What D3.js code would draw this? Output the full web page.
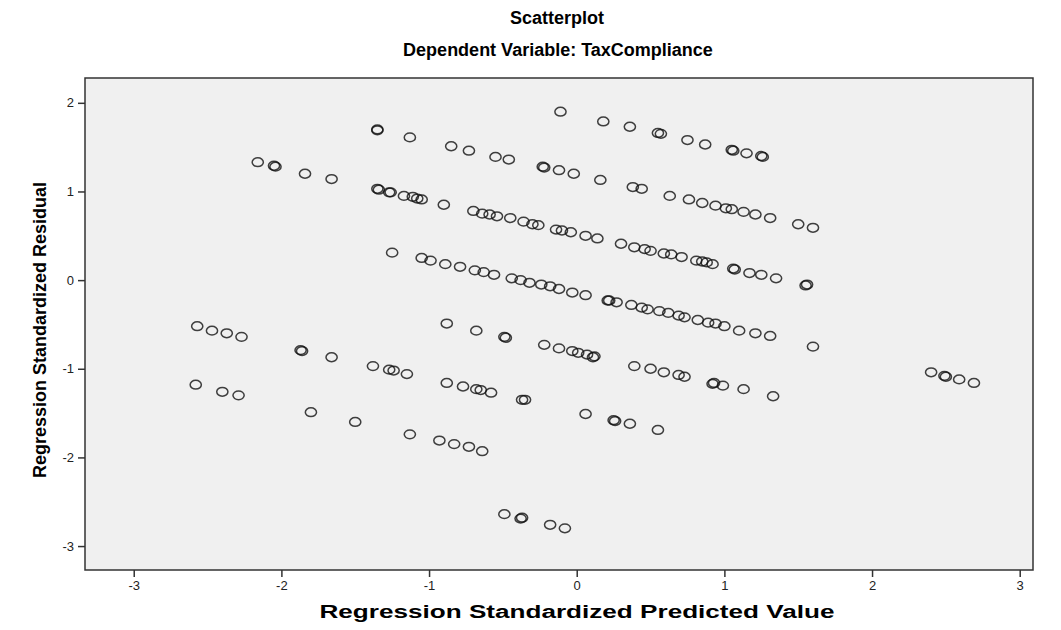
<!DOCTYPE html>
<html>
<head>
<meta charset="utf-8">
<script src="https://cdn.jsdelivr.net/npm/d3@7"></script>
<style>
  body { margin: 0; background: #fff; }
  text { font-family: "Liberation Sans", Arial, sans-serif; }
</style>
</head>
<body>
<div id="chart"></div>
<script>
// predicted values (x) and residuals (y)
var predicted = [
  -0.11, 0.18, 0.36, 0.55, 0.57, 0.75, 0.87, 1.05, 1.06, 1.15, 1.25, 1.26,
  -1.35, -1.35, -1.13, -0.85, -0.73, -0.55, -0.46, -0.23, -0.22, -0.12, -0.02, 0.16, 0.38, 0.44,
  0.63, 0.76, 0.85, 0.94, 1.01, 1.05, 1.13, 1.21, 1.31, 1.50, 1.60,
  -2.16, -2.05, -2.04, -1.84, -1.66, -1.35, -1.34, -1.27, -1.26, -1.17, -1.11, -1.08, -1.05, -0.90,
  -0.70, -0.64, -0.59, -0.54, -0.45, -0.36, -0.30, -0.26, -0.14, -0.10, -0.04, 0.06, 0.14, 0.30,
  0.39, 0.46, 0.50, 0.59, 0.64, 0.71, 0.81, 0.85, 0.88, 0.92, 1.06, 1.07, 1.17, 1.25, 1.35, 1.55, 1.56,
  -1.25, -1.05, -0.99, -0.89, -0.79, -0.69, -0.63, -0.56, -0.44, -0.38, -0.32, -0.24, -0.18, -0.12,
  -0.03, 0.06, 0.21, 0.22, 0.27, 0.37, 0.44, 0.48, 0.56, 0.62, 0.69, 0.73, 0.82, 0.89, 0.94, 1.00,
  1.10, 1.21, 1.31, 1.60,
  -0.88, -0.68, -0.49, -0.48, -0.22, -0.12, -0.03, 0.01, 0.07, 0.11, 0.12, 0.39, 0.50, 0.59, 0.69,
  0.73, 0.92, 0.93, 0.99, 1.13, 1.33, 2.40, 2.49, 2.50, 2.59, 2.69,
  -2.57, -2.47, -2.37, -2.27, -1.87, -1.86, -1.66, -1.38, -1.27, -1.24, -1.15, -0.88, -0.77, -0.68,
  -0.65, -0.58, -0.37, -0.35, 0.06, 0.25, 0.26, 0.36, 0.55,
  -2.58, -2.40, -2.29, -1.80, -1.50, -1.13, -0.93, -0.83, -0.73, -0.64,
  -0.49, -0.38, -0.37, -0.18, -0.08
];
var residuals = [
  1.90, 1.79, 1.73, 1.66, 1.65, 1.58, 1.53, 1.47, 1.46, 1.43, 1.40, 1.39,
  1.69, 1.70, 1.61, 1.51, 1.46, 1.39, 1.36, 1.28, 1.27, 1.24, 1.20, 1.13, 1.05, 1.03,
  0.95, 0.91, 0.87, 0.84, 0.81, 0.80, 0.77, 0.74, 0.70, 0.63, 0.59,
  1.33, 1.29, 1.28, 1.20, 1.14, 1.03, 1.02, 0.99, 0.99, 0.95, 0.94, 0.92, 0.91, 0.85,
  0.78, 0.75, 0.74, 0.72, 0.70, 0.66, 0.63, 0.62, 0.57, 0.56, 0.54, 0.50, 0.47, 0.41,
  0.37, 0.35, 0.33, 0.30, 0.29, 0.26, 0.22, 0.21, 0.20, 0.18, 0.13, 0.12, 0.08, 0.06, 0.02, -0.06, -0.05,
  0.31, 0.25, 0.22, 0.18, 0.15, 0.11, 0.09, 0.06, 0.02, 0.00, -0.03, -0.05, -0.07, -0.10,
  -0.14, -0.17, -0.23, -0.23, -0.25, -0.28, -0.31, -0.33, -0.35, -0.37, -0.40, -0.42, -0.45, -0.48, -0.49, -0.52,
  -0.57, -0.60, -0.63, -0.75,
  -0.49, -0.57, -0.64, -0.65, -0.73, -0.77, -0.80, -0.82, -0.84, -0.87, -0.86, -0.97, -1.00, -1.04, -1.07,
  -1.09, -1.17, -1.16, -1.19, -1.23, -1.31, -1.04, -1.08, -1.09, -1.12, -1.16,
  -0.52, -0.57, -0.60, -0.64, -0.79, -0.80, -0.87, -0.97, -1.01, -1.02, -1.06, -1.16, -1.20, -1.23,
  -1.24, -1.27, -1.35, -1.35, -1.51, -1.58, -1.59, -1.62, -1.69,
  -1.18, -1.26, -1.30, -1.49, -1.60, -1.74, -1.81, -1.85, -1.88, -1.93,
  -2.64, -2.69, -2.68, -2.76, -2.80
];
var xTicks = [-3, -2, -1, 0, 1, 2, 3];
var yTicks = [-3, -2, -1, 0, 1, 2];
var titleText = "Scatterplot";
var subtitleText = "Dependent Variable: TaxCompliance";
var xLabel = "Regression Standardized Predicted Value";
var yLabel = "Regression Standardized Residual";

var margin = { top: 78, left: 85, right: 28, bottom: 60 },
    width = 1061 - margin.left - margin.right,
    height = 630 - margin.top - margin.bottom;

var svg = d3.select("#chart")
  .append("svg")
  .attr("width", 1061)
  .attr("height", 630);

var g = svg.append("g")
  .attr("transform", "translate(" + margin.left + "," + margin.top + ")");

var xScale = d3.scaleLinear().domain([-3.33, 3.09]).range([0, width]);
var yScale = d3.scaleLinear().domain([-3.27, 2.28]).range([height, 0]);

g.append("rect")
  .attr("width", width)
  .attr("height", height)
  .attr("fill", "#f0f0f0");

var points = predicted.map(function(d, i) {
  return { x: d, y: residuals[i] };
});

g.selectAll(".dot")
  .data(points)
  .enter().append("ellipse")
  .attr("class", "dot")
  .attr("cx", function(d) { return xScale(d.x); })
  .attr("cy", function(d) { return yScale(d.y); })
  .attr("rx", 5.6)
  .attr("ry", 4.4)
  .attr("fill", "none")
  .attr("stroke", "#111")
  .attr("stroke-opacity", 0.8)
  .attr("stroke-width", 1.5);

// axes, plain hyphen for negatives like the original
var fmt = function(d) { return String(d); };

var xAxis = g.append("g")
  .attr("transform", "translate(0," + height + ")")
  .call(d3.axisBottom(xScale).tickValues(xTicks).tickSize(7).tickPadding(4).tickFormat(fmt));

var yAxis = g.append("g")
  .call(d3.axisLeft(yScale).tickValues(yTicks).tickSize(7).tickPadding(4).tickFormat(fmt));

[xAxis, yAxis].forEach(function(ax) {
  ax.select(".domain").remove();
  ax.selectAll("line").attr("stroke", "#333").attr("stroke-width", 1.5);
  ax.selectAll("text")
    .attr("fill", "#222")
    .style("font-size", "13px")
    .style("font-family", "'Liberation Sans', Arial, sans-serif");
});

g.append("rect")
  .attr("width", width)
  .attr("height", height)
  .attr("fill", "none")
  .attr("stroke", "#333")
  .attr("stroke-width", 1.5);

// titles
svg.append("text")
  .attr("x", 557)
  .attr("y", 24)
  .attr("text-anchor", "middle")
  .style("font-weight", "bold")
  .style("font-size", "18px")
  .text(titleText);

svg.append("text")
  .attr("x", 558)
  .attr("y", 56)
  .attr("text-anchor", "middle")
  .style("font-weight", "bold")
  .style("font-size", "18px")
  .text(subtitleText);

svg.append("text")
  .attr("x", 577)
  .attr("y", 618)
  .attr("text-anchor", "middle")
  .attr("textLength", 515)
  .attr("lengthAdjust", "spacingAndGlyphs")
  .style("font-weight", "bold")
  .style("font-size", "18px")
  .text(xLabel);

svg.append("text")
  .attr("transform", "translate(46," + (margin.top + height / 2 + 6) + ") rotate(-90)")
  .attr("text-anchor", "middle")
  .style("font-weight", "bold")
  .style("font-size", "18px")
  .style("font-family", "'Liberation Sans Narrow', 'Liberation Sans', Arial, sans-serif")
  .text(yLabel);
</script>
</body>
</html>
